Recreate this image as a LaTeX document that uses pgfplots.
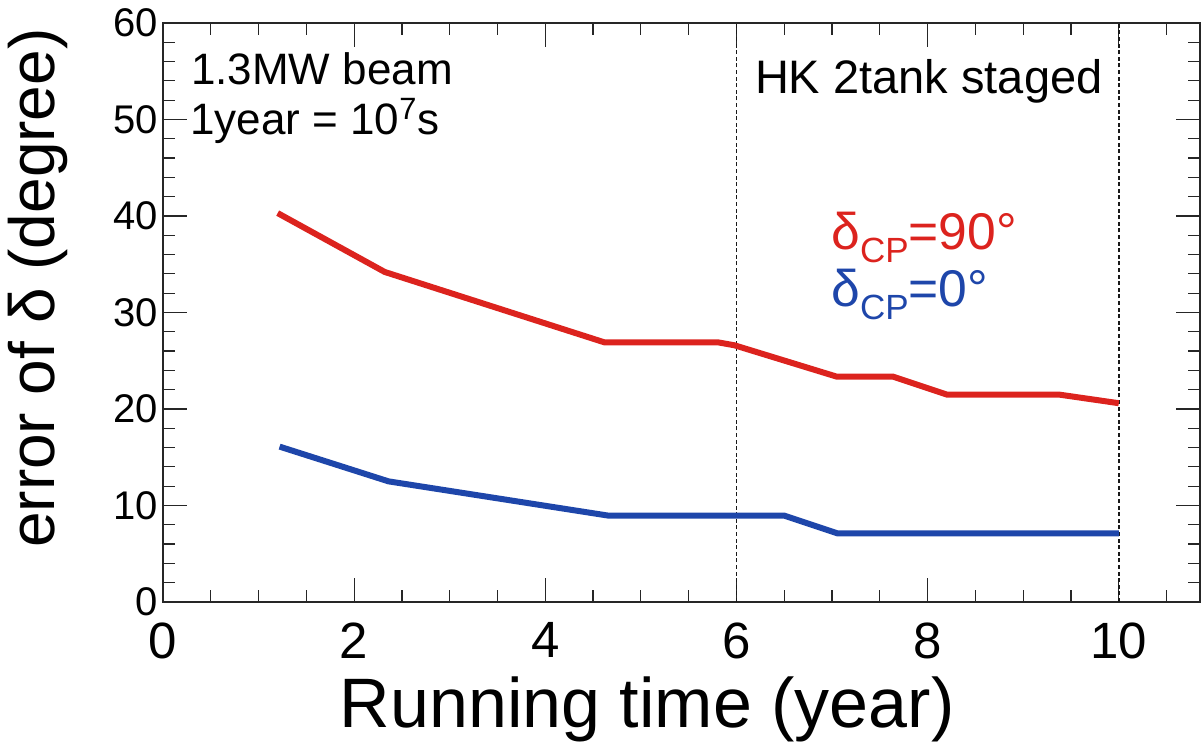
\documentclass[border=0pt]{standalone}
\usepackage{fontspec}
\setmainfont{Liberation Sans}
\usepackage{pgfplots}
\pgfplotsset{compat=1.18}
\definecolor{myred}{RGB}{220,35,30}
\definecolor{myblue}{RGB}{30,70,170}
\begin{document}
\begin{tikzpicture}
\begin{axis}[
 scale only axis, width=518.5pt, height=289.5pt,
 xmin=0, xmax=10.85, ymin=0, ymax=60,
 xtick={0,2,...,10}, ytick={0,10,...,60},
 minor xtick={0,0.5,...,10.5}, minor ytick={0,2,...,60},
 major tick length=12pt, minor tick length=6pt,
 axis line style={line width=0.75pt, black!85},
 every tick/.style={line width=0.6pt, black!85},
 /pgf/number format/assume math mode=true,
 xticklabel style={font=\fontsize{25.5}{26}\selectfont, inner sep=0pt, yshift=-10pt},
 yticklabel style={font=\fontsize{20}{20}\selectfont, inner sep=0pt, xshift=-2.5pt},
 xlabel={Running time (year)},
 ylabel={error of δ (degree)},
 xlabel style={font=\fontsize{35}{35}\selectfont, at={(axis description cs:0.467,-0.2176)}, anchor=base},
 ylabel style={font=\fontsize{32}{32}\selectfont, at={(axis description cs:-0.1205,0.542)}, anchor=center},
]
\coordinate (sw) at (rel axis cs:0,0);
\addplot[black!90, line width=0.75pt, dash pattern=on 2pt off 1.3pt] coordinates {(6,0) (6,60)};
\addplot[black!90, line width=0.75pt, dash pattern=on 2pt off 1.3pt] coordinates {(10,0) (10,60)};
\addplot[myred, line width=3pt] coordinates {
 (1.2,40.3) (2.32,34.2) (4.62,26.9) (5.81,26.9) (5.98,26.6) (7.05,23.35) (7.64,23.35) (8.2,21.5) (9.37,21.5) (10,20.6)};
\addplot[myblue, line width=3pt] coordinates {
 (1.22,16.1) (2.36,12.5) (4.66,8.95) (6.5,8.95) (7.06,7.1) (10,7.1)};
\node[anchor=base west, inner sep=0pt, font=\fontsize{22}{22}\selectfont] at (axis cs:0.29,53.6) {1.3MW beam};
\node[anchor=base west, inner sep=0pt, font=\fontsize{22}{22}\selectfont] at (axis cs:0.28,48.4) {1year = 10\textsuperscript{7}s};
\node[anchor=base west, inner sep=0pt, font=\fontsize{23.5}{24}\selectfont] at (axis cs:6.19,52.7) {HK 2tank staged};
\node[anchor=base west, inner sep=0pt, text=myred, font=\fontsize{25.8}{26}\selectfont] at (axis cs:6.99,36.5) {δ\raisebox{-6.5pt}{\fontsize{17.5}{18}\selectfont CP}=90°};
\node[anchor=base west, inner sep=0pt, text=myblue, font=\fontsize{25.8}{26}\selectfont] at (axis cs:6.99,30.6) {δ\raisebox{-6.5pt}{\fontsize{17.5}{18}\selectfont CP}=0°};
\end{axis}
\pgfresetboundingbox
\path[use as bounding box] (sw) ++(-81.5pt,-70pt) rectangle ++(600.5pt,371pt);
\end{tikzpicture}
\end{document}
